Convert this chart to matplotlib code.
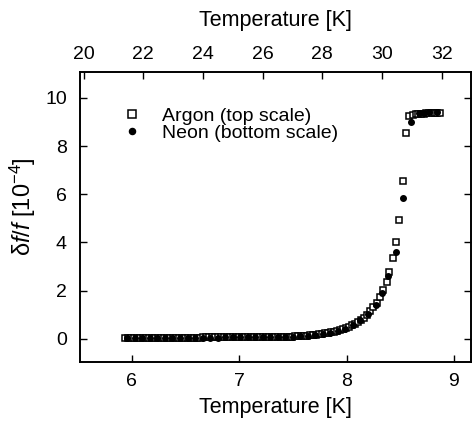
import matplotlib
matplotlib.use("Agg")
import matplotlib.pyplot as plt

plt.rcParams['font.family'] = ['Liberation Sans', 'DejaVu Sans']
plt.rcParams['mathtext.fontset'] = 'custom'
plt.rcParams['mathtext.rm'] = 'Liberation Sans'
plt.rcParams['mathtext.it'] = 'Liberation Sans:italic'
plt.rcParams['mathtext.default'] = 'regular'

# Argon (top scale), temperature in K
argon_T = [21.4, 21.5, 21.6, 21.7, 21.8, 21.9,
           22.0, 22.1, 22.2, 22.3, 22.4, 22.5, 22.6, 22.7, 22.8, 22.9,
           23.0, 23.1, 23.2, 23.3, 23.4, 23.5, 23.6, 23.7, 23.8, 23.9,
           24.0, 24.1, 24.2, 24.3, 24.4, 24.5, 24.6, 24.7, 24.8, 24.9,
           25.0, 25.1, 25.2, 25.3, 25.4, 25.5, 25.6, 25.7, 25.8, 25.9,
           26.0, 26.1, 26.2, 26.3, 26.4, 26.5, 26.6, 26.7, 26.8, 26.9,
           27.0, 27.1, 27.2, 27.3, 27.4, 27.5, 27.6, 27.7, 27.8, 27.9,
           28.0, 28.1, 28.2, 28.3, 28.4, 28.5, 28.6, 28.7, 28.8, 28.9,
           29.0, 29.1, 29.2, 29.3, 29.4, 29.5, 29.6, 29.71, 29.84, 29.93,
           30.04, 30.17, 30.24, 30.37, 30.48, 30.57, 30.69, 30.80, 30.90,
           31.04, 31.13, 31.22, 31.31, 31.40, 31.49, 31.58, 31.67, 31.76,
           31.85, 31.94]
argon_df = [0.02, 0.02, 0.02, 0.02, 0.02, 0.02,
            0.03, 0.03, 0.03, 0.03, 0.03, 0.03, 0.03, 0.03, 0.03, 0.03,
            0.04, 0.04, 0.04, 0.04, 0.04, 0.04, 0.04, 0.04, 0.04, 0.04,
            0.05, 0.05, 0.05, 0.05, 0.05, 0.05, 0.05, 0.05, 0.05, 0.05,
            0.06, 0.06, 0.06, 0.06, 0.06, 0.06, 0.06, 0.06, 0.06, 0.06,
            0.07, 0.07, 0.07, 0.07, 0.07, 0.07, 0.08, 0.08, 0.08, 0.08,
            0.09, 0.10, 0.10, 0.11, 0.12, 0.13, 0.14, 0.15, 0.17, 0.18,
            0.20, 0.22, 0.24, 0.26, 0.29, 0.32, 0.36, 0.40, 0.45, 0.49,
            0.55, 0.62, 0.70, 0.78, 0.88, 1.00, 1.13, 1.30, 1.50, 1.74,
            2.02, 2.37, 2.78, 3.34, 4.02, 4.93, 6.56, 8.56, 9.25,
            9.29, 9.31, 9.32, 9.33, 9.34, 9.35, 9.35, 9.36, 9.36,
            9.37, 9.37]

# Neon (bottom scale), temperature in K
neon_T = [5.96, 6.03, 6.10, 6.17, 6.24, 6.31, 6.38, 6.45, 6.52, 6.59,
          6.66, 6.73, 6.80, 6.87, 6.94, 7.01, 7.08, 7.15, 7.22, 7.29,
          7.36, 7.43, 7.50, 7.57, 7.64, 7.71, 7.78, 7.85, 7.92, 7.99,
          8.06, 8.13, 8.20, 8.27, 8.33, 8.39, 8.46, 8.53, 8.60, 8.67,
          8.72, 8.77, 8.84]
neon_df = [0.02, 0.02, 0.02, 0.02, 0.03, 0.03, 0.03, 0.03, 0.03, 0.04,
           0.04, 0.04, 0.04, 0.05, 0.05, 0.05, 0.05, 0.06, 0.06, 0.07,
           0.07, 0.08, 0.09, 0.10, 0.12, 0.15, 0.19, 0.24, 0.32, 0.42,
           0.56, 0.76, 1.02, 1.40, 1.90, 2.60, 3.59, 5.86, 8.99, 9.38,
           9.39, 9.40, 9.40]

bottom_ticks = [6, 7, 8, 9]
top_ticks = [20, 22, 24, 26, 28, 30, 32]
y_ticks = [0, 2, 4, 6, 8, 10]

fig = plt.figure(figsize=(4.72, 4.22), dpi=100)
ax = fig.add_axes([80 / 472, (422 - 361.7) / 422, 390.5 / 472, 289.4 / 422])
ax2 = ax.twiny()

sq, = ax2.plot(argon_T, argon_df, linestyle='none', marker='s', markersize=5,
               markerfacecolor='white', markeredgecolor='black', markeredgewidth=1.1,
               label='Argon (top scale)')
dot, = ax.plot(neon_T, neon_df, linestyle='none', marker='o', markersize=4,
               color='black', label='Neon (bottom scale)')

ax.set_zorder(ax2.get_zorder() + 1)
ax.patch.set_visible(False)

ax.set_xlim(5.519, 9.154)
ax2.set_xlim(19.88, 32.965)
ax.set_ylim(-0.955, 11.06)

ax.set_xticks(bottom_ticks)
ax2.set_xticks(top_ticks)
ax.set_yticks(y_ticks)

for a in (ax, ax2):
    a.tick_params(direction='in', length=5, width=1, labelsize=14)
    for s in a.spines.values():
        s.set_linewidth(1.2)
ax.tick_params(axis='y', right=True, pad=9.5)
ax.tick_params(axis='x', pad=8)
ax2.tick_params(axis='x', pad=7)

ax.set_xlabel('Temperature [K]', fontsize=15.5, labelpad=5)
ax2.set_xlabel('Temperature [K]', fontsize=15.5, labelpad=14)
ax.set_ylabel(r'$\delta\mathit{f}/\mathit{f}$ [10$^{-4}$]', fontsize=17)
ax.yaxis.set_label_coords(-0.108, 0.536)

ax.legend(handles=[sq, dot], loc='upper left', bbox_to_anchor=(0.0895, 0.906),
          frameon=False, fontsize=14, handlelength=1.0, handletextpad=1.0,
          borderaxespad=0, labelspacing=-0.03, markerscale=1.1)

fig.savefig('out.png', dpi=100)
